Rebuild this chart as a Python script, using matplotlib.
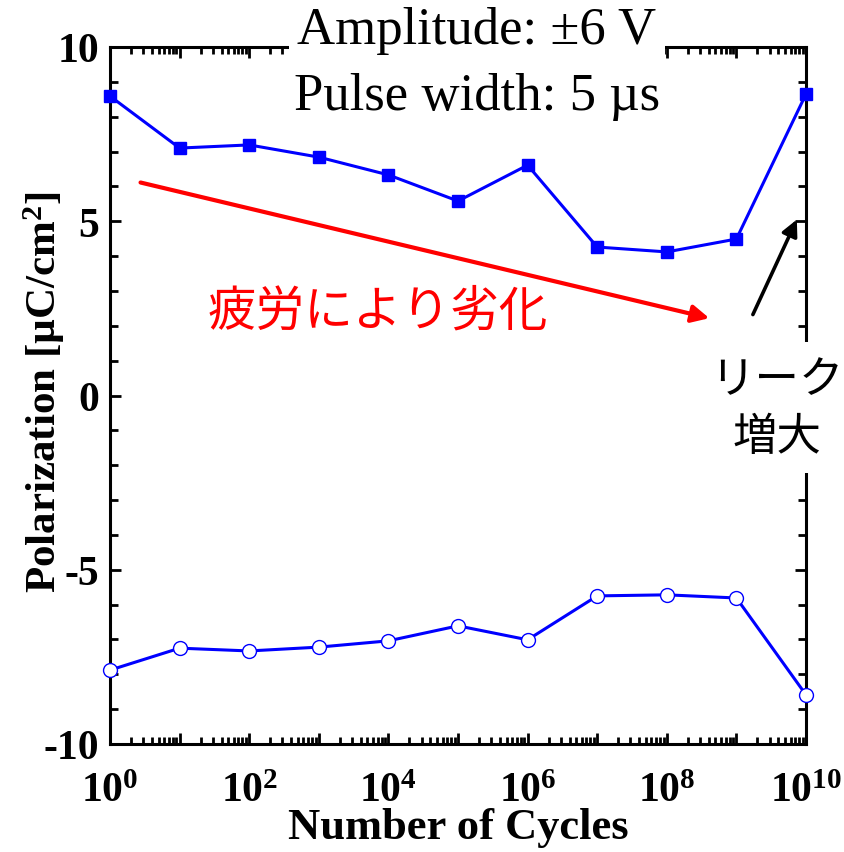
import matplotlib
matplotlib.use("Agg")
import matplotlib.pyplot as plt
from matplotlib.ticker import FixedLocator, LogLocator, FuncFormatter, MultipleLocator
import numpy as np

# --- Data ---
cycles = [1e0, 1e1, 1e2, 1e3, 1e4, 1e5, 1e6, 1e7, 1e8, 1e9, 1e10]
p_pos = [8.59, 7.10, 7.19, 6.84, 6.33, 5.58, 6.61, 4.26, 4.12, 4.49, 8.65]
p_neg = [-7.88, -7.25, -7.33, -7.22, -7.04, -6.61, -7.01, -5.75, -5.72, -5.81, -8.59]

fatigue_arrow = [(10**0.40, 6.13), (10**8.65, 2.20)]
leak_arrow = [(10**9.22, 2.25), (10**9.885, 5.12)]

plt.rcParams["font.family"] = ["Liberation Serif", "DejaVu Sans"]
plt.rcParams["axes.unicode_minus"] = False
plt.rcParams["mathtext.fontset"] = "custom"
plt.rcParams["mathtext.rm"] = "Liberation Serif:bold"
plt.rcParams["mathtext.bf"] = "Liberation Serif:bold"
plt.rcParams["mathtext.it"] = "Liberation Serif:bold"

fig = plt.figure(figsize=(8.45, 8.53), dpi=100)
ax = fig.add_axes([110 / 845, 1 - 745 / 853, 696 / 845, 697 / 853])

ax.plot(cycles, p_pos, color="#0000ff", lw=2.2, marker="s", ms=9,
        mfc="#0000ff", mec="#0000ff", clip_on=False, zorder=4)
ax.plot(cycles, p_neg, color="#0000ff", lw=2.2, marker="o", ms=10,
        mfc="white", mec="#0000ff", mew=1.0, clip_on=False, zorder=4)

ax.set_xscale("log")
ax.set_xlim(1e0, 1e10)
ax.set_ylim(-10, 10)

# --- ticks ---
ax.xaxis.set_major_locator(FixedLocator([10.0**k for k in range(11)]))
ax.xaxis.set_minor_locator(LogLocator(base=10, subs=np.arange(2, 10), numticks=20))
ax.xaxis.set_major_formatter(FuncFormatter(
    lambda v, pos: r"$\mathbf{10^{%d}}$" % round(np.log10(v)) if round(np.log10(v)) % 2 == 0 else ""))
ax.xaxis.set_minor_formatter(FuncFormatter(lambda v, pos: ""))
ax.yaxis.set_major_locator(MultipleLocator(5))
ax.yaxis.set_minor_locator(MultipleLocator(1))

ax.tick_params(which="both", direction="in", top=True, right=True, width=2, colors="black")
ax.tick_params(axis="x", which="major", length=8, labelsize=30, pad=20)
ax.tick_params(axis="x", which="minor", length=5)
ax.tick_params(axis="y", which="major", length=8, labelsize=30, pad=8)
ax.tick_params(axis="y", which="minor", length=6)
for lab in ax.get_yticklabels():
    lab.set_fontweight("bold")
for sp in ax.spines.values():
    sp.set_linewidth(2.2)

fig.text(458 / 845, 1 - 828 / 853, "Number of Cycles", fontsize=32, fontweight="bold",
         ha="center", va="center")
fig.text(44 / 845, 1 - 392 / 853, r"Polarization [µC/cm$^{\mathbf{2}}$]", fontsize=31,
         fontweight="bold", rotation=90, ha="center", va="center")

# --- annotations ---
ax.text(0.527, 1.024, "Amplitude: ±6 V", transform=ax.transAxes, ha="center", va="center",
        fontsize=38, zorder=6, clip_on=False,
        bbox=dict(facecolor="white", edgecolor="none", pad=6))
ax.text(0.527, 0.93, "Pulse width: 5 µs", transform=ax.transAxes, ha="center", va="center",
        fontsize=38, zorder=6)

ax.annotate("", xy=fatigue_arrow[1], xytext=fatigue_arrow[0],
            arrowprops=dict(arrowstyle="-|>", color="red", lw=3, mutation_scale=26))
ax.text(0.385, 0.621, "疲労により劣化", transform=ax.transAxes, ha="center", va="center",
        fontsize=35, color="red", family=["Noto Sans CJK JP", "DejaVu Sans"])

ax.annotate("", xy=leak_arrow[1], xytext=leak_arrow[0],
            arrowprops=dict(arrowstyle="-|>", color="black", lw=2.6, mutation_scale=24))
ax.text(0.958, 0.483, "リーク\n増大", transform=ax.transAxes, ha="center", va="center",
        fontsize=32, color="black", family=["Noto Sans CJK JP", "DejaVu Sans"],
        linespacing=1.3, zorder=6, clip_on=False,
        bbox=dict(facecolor="white", edgecolor="none", pad=10))

fig.savefig("out.png", dpi=100)
